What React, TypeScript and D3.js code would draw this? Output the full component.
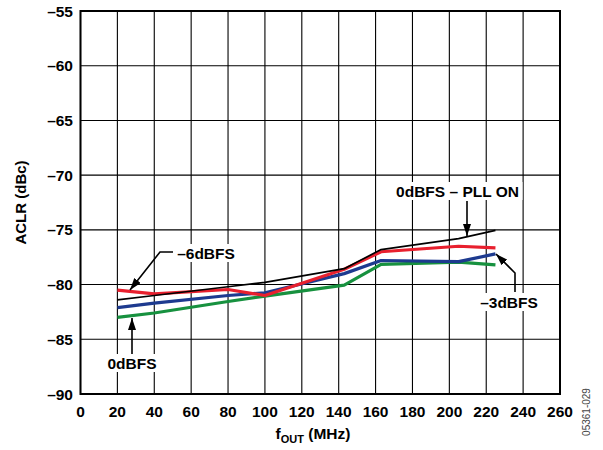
import React from "react";
import * as d3 from "d3";

const W = 603;
const H = 450;

const freqMHz = [20, 40, 80, 100, 143, 163, 205, 225];
const pllOn0dBFS = [-81.4, -81.0, -80.2, -79.8, -78.55, -76.8, -75.8, -75.05];
const minus6dBFS = [-80.5, -80.85, -80.45, -81.0, -78.6, -77.0, -76.5, -76.65];
const minus3dBFS = [-82.1, -81.7, -81.0, -80.75, -79.0, -77.8, -77.9, -77.2];
const zero0dBFS = [-83.0, -82.6, -81.55, -81.05, -80.05, -78.15, -77.95, -78.2];

const xTicks = d3.range(0, 261, 20);
const yTicks = d3.range(-90, -54, 5);

const seriesList = [
  { name: "0dBFS", values: zero0dBFS, color: "#17913f", width: 3.2 },
  { name: "-3dBFS", values: minus3dBFS, color: "#1d3a8f", width: 3.2 },
  { name: "-6dBFS", values: minus6dBFS, color: "#e8202e", width: 3.2 },
  { name: "0dBFS PLL ON", values: pllOn0dBFS, color: "#000000", width: 1.7 },
];

const FONT = "'Liberation Sans', Arial, Helvetica, sans-serif";
const FS = 15.5;

export default function App() {
  const left = 80.5, right = 560, top = 11, bottom = 394;
  const x = d3.scaleLinear().domain([0, 260]).range([left, right]);
  const y = d3.scaleLinear().domain([-90, -55]).range([bottom, top]);
  const line = d3
    .line<number>()
    .x((_, i) => x(freqMHz[i]))
    .y((d) => y(d));

  const ann = (tx: number, ty: number, text: string, w: number) => (
    <g>
      <rect x={tx - w / 2} y={ty - 9} width={w} height={18} fill="#fff" />
      <text x={tx} y={ty + 5.5} textAnchor="middle" fontSize={FS} fontWeight="bold">
        {text}
      </text>
    </g>
  );

  return (
    <svg
      width={W}
      height={H}
      style={{ position: "absolute", left: 0, top: 0, background: "#fff" }}
      fontFamily={FONT}
    >
      <defs>
        <marker
          id="ah"
          viewBox="0 0 12 8"
          refX="12"
          refY="4"
          markerWidth="12"
          markerHeight="8"
          markerUnits="userSpaceOnUse"
          orient="auto"
        >
          <path d="M0,0 L12,4 L0,8 Z" fill="#000" />
        </marker>
      </defs>
      <rect x={0} y={0} width={W} height={H} fill="#fff" />
      {/* grid */}
      {xTicks.map((t) => (
        <line key={"gx" + t} x1={x(t)} x2={x(t)} y1={top} y2={bottom} stroke="#000" strokeWidth={1.1} />
      ))}
      {yTicks.map((t) => (
        <line key={"gy" + t} x1={left} x2={right} y1={y(t)} y2={y(t)} stroke="#000" strokeWidth={1.1} />
      ))}
      {/* annotation backgrounds covering grid */}
      {ann(206, 253, "\u20136dBFS", 64)}
      {ann(132, 363, "0dBFS", 56)}
      {ann(457.5, 191, "0dBFS \u2013 PLL ON", 130)}
      {ann(509, 302, "\u20133dBFS", 64)}
      {/* series */}
      {seriesList.map((s) => (
        <path
          key={s.name}
          d={line(s.values) || ""}
          fill="none"
          stroke={s.color}
          strokeWidth={s.width}
          strokeLinejoin="round"
        />
      ))}
      {/* frame */}
      <rect x={left} y={top} width={right - left} height={bottom - top} fill="none" stroke="#000" strokeWidth={2} />
      {/* arrows */}
      <path d="M173,252 L160,252 L130,290" fill="none" stroke="#000" strokeWidth={1.6} markerEnd="url(#ah)" />
      <path d="M132,354 L132,318" fill="none" stroke="#000" strokeWidth={1.6} markerEnd="url(#ah)" />
      <path d="M467,201 L467,236" fill="none" stroke="#000" strokeWidth={1.6} markerEnd="url(#ah)" />
      <path d="M515,292 L515,273 L496,254" fill="none" stroke="#000" strokeWidth={1.6} markerEnd="url(#ah)" />
      {/* x tick labels */}
      {xTicks.map((t) => (
        <text key={"xl" + t} x={x(t)} y={416.5} textAnchor="middle" fontSize={FS} fontWeight="bold">
          {t}
        </text>
      ))}
      {/* y tick labels */}
      {yTicks.map((t) => (
        <text key={"yl" + t} x={73} y={y(t) + 5.5} textAnchor="end" fontSize={FS} fontWeight="bold">
          {"\u2013" + Math.abs(t)}
        </text>
      ))}
      {/* axis titles */}
      <text
        transform={`translate(26,${(top + bottom) / 2}) rotate(-90)`}
        textAnchor="middle"
        fontSize={15}
        fontWeight="bold"
      >
        ACLR (dBc)
      </text>
      <text x={313} y={439} textAnchor="middle" fontSize={15.5} fontWeight="bold">
        f<tspan fontSize={11} dy={4}>OUT</tspan>
        <tspan dy={-4}> (MHz)</tspan>
      </text>
      <text
        transform={`translate(590,412) rotate(-90)`}
        textAnchor="middle"
        fontSize={10}
        fill="#444"
      >
        05361-029
      </text>
    </svg>
  );
}
